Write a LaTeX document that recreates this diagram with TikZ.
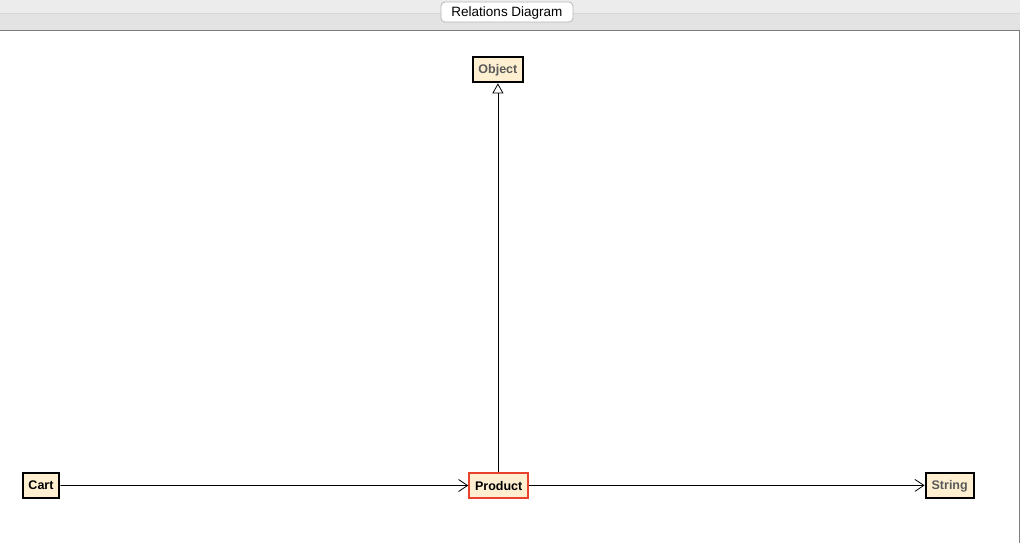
\documentclass[tikz,border=0pt]{standalone}
\usepackage{fontspec}
\setmainfont{Liberation Sans}
\usetikzlibrary{arrows.meta}
\definecolor{boxfill}{HTML}{FDEFD0}
\definecolor{redborder}{HTML}{E8412C}
\definecolor{textgray}{HTML}{5A5A5A}
\definecolor{bandtop}{HTML}{ECECEC}
\definecolor{bandbot}{HTML}{E3E3E3}
\definecolor{bandline}{HTML}{D6D6D6}
\definecolor{framegray}{HTML}{7D7D7D}
\definecolor{tabborder}{HTML}{B8B8B8}
\tikzset{
  classbox/.style={draw=black, line width=2.2pt, fill=boxfill, inner sep=0pt,
    minimum height=25.4pt, text height=9pt, text depth=0pt,
    font=\fontsize{12.5}{14}\selectfont\bfseries},
  assoc/.style={draw=black, line width=0.8pt, -{Straight Barb[length=9pt,width=12pt,line width=0.8pt]}},
  inherit/.style={draw=black, line width=0.8pt, -{Triangle[open,length=10pt,width=11pt,line width=0.8pt,fill=white]}}
}
\begin{document}
\begin{tikzpicture}[x=1pt,y=-1pt]
\useasboundingbox (0,0) rectangle (1020,543);
% background
\fill[white] (0,0) rectangle (1020,543);
\fill[bandtop] (0,0) rectangle (1020,13);
\fill[bandbot] (0,13) rectangle (1020,30);
\draw[bandline, line width=0.8pt] (0,13) -- (1020,13);
\draw[framegray, line width=1pt] (0,30.5) -- (1019.5,30.5) -- (1019.5,543);
% tab
\node[draw=tabborder, fill=white, rounded corners=4pt, line width=0.8pt,
  minimum width=132pt, minimum height=20pt, inner sep=0pt,
  text height=9.5pt, text depth=0pt,
  font=\fontsize{13.5}{15}\selectfont] (tab) at (507,12) {Relations Diagram};
% classes
\node[classbox, minimum width=50.3pt, text=textgray] (Object) at (497.9,69.5) {Object};
\node[classbox, minimum width=36.6pt] (Cart) at (41,485.4) {Cart};
\node[classbox, minimum width=58.7pt, draw=redborder] (Product) at (498.7,485.5) {Product};
\node[classbox, minimum width=48pt, text=textgray] (String) at (949.7,485.4) {String};
% connectors
\draw[inherit] (Product.north -| Object.south) -- (Object.south);
\draw[assoc] (Cart.east) -- (Product.west);
\draw[assoc] (Product.east) -- (String.west);
\end{tikzpicture}
\end{document}
